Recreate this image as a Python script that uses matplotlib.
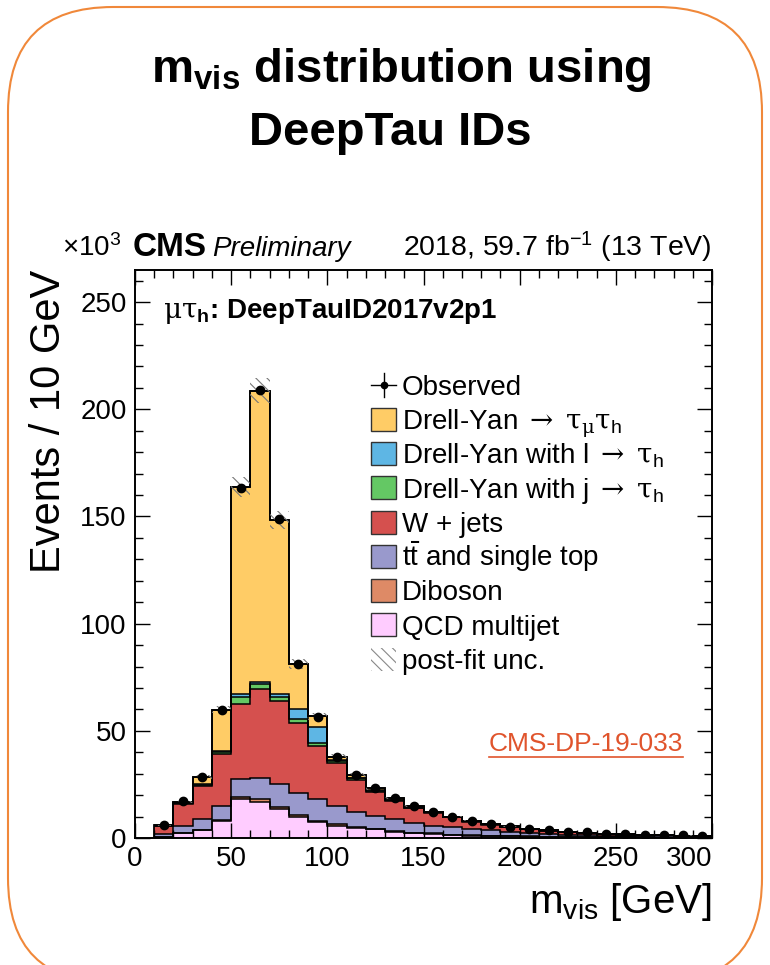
import numpy as np
import matplotlib.pyplot as plt
from matplotlib.patches import Rectangle, FancyBboxPatch
from matplotlib.lines import Line2D
from matplotlib.ticker import MultipleLocator

plt.rcParams['font.family'] = ['Liberation Sans', 'DejaVu Sans']
plt.rcParams['mathtext.fontset'] = 'custom'
plt.rcParams['mathtext.rm'] = 'DejaVu Serif'
plt.rcParams['mathtext.sf'] = 'Liberation Sans'
plt.rcParams['mathtext.it'] = 'Liberation Sans:italic'
plt.rcParams['mathtext.bf'] = 'Liberation Sans:bold'
plt.rcParams['hatch.linewidth'] = 0.8

# m_vis bins (GeV), events in units of 10^3
edges = np.arange(10, 301, 10)

observed = [6.0, 17.3, 28.5, 59.8, 163.5, 208.8, 148.6, 81.2, 56.6, 38.0,
            29.2, 23.2, 18.7, 14.8, 12.0, 9.8, 7.9, 6.4, 5.3, 4.2,
            3.6, 3.0, 2.6, 2.0, 1.8, 1.6, 1.4, 1.2, 1.1]

qcd = [0.5, 2.3, 3.6, 7.8, 18.1, 17.0, 13.7, 10.0, 7.5, 5.8,
       4.8, 4.0, 3.0, 2.2, 1.9, 1.4, 1.1, 0.9, 0.7, 0.6,
       0.5, 0.4, 0.35, 0.3, 0.25, 0.2, 0.2, 0.15, 0.15]
diboson = [0.1, 0.2, 0.3, 0.6, 0.9, 1.1, 0.9, 0.7, 0.6, 0.6,
           0.5, 0.4, 0.3, 0.3, 0.2, 0.2, 0.2, 0.1, 0.1, 0.1,
           0.1, 0.1, 0.05, 0.05, 0.05, 0.05, 0.02, 0.05, 0.03]
ttbar = [1.1, 3.3, 4.8, 6.6, 8.4, 9.8, 10.5, 10.5, 10.0, 8.7,
         7.0, 5.9, 5.4, 4.4, 3.5, 3.4, 2.8, 2.5, 2.2, 1.8,
         1.3, 1.0, 0.8, 0.65, 0.6, 0.55, 0.48, 0.4, 0.32]
wjets = [3.9, 10.1, 15.6, 24.3, 35.1, 41.6, 38.6, 32.5, 24.9, 19.8,
         14.8, 11.3, 8.6, 7.0, 6.2, 4.7, 3.5, 2.7, 2.2, 1.6,
         1.5, 1.2, 1.0, 0.8, 0.7, 0.6, 0.5, 0.45, 0.45]
dy_jtau = [0.1, 0.4, 0.6, 1.0, 3.2, 2.5, 2.3, 1.8, 1.2, 1.1,
           0.8, 0.5, 0.4, 0.3, 0.1, 0.1, 0.1, 0.1, 0.05, 0.05,
           0.05, 0.05, 0.05, 0.05, 0.0, 0.0, 0.0, 0.0, 0.0]
dy_ltau = [0.0, 0.1, 0.2, 0.3, 1.3, 1.0, 1.3, 4.8, 7.8, 0.4,
           0.2, 0.2, 0.2, 0.1, 0.1, 0.1, 0.1, 0.0, 0.05, 0.05,
           0.05, 0.05, 0.05, 0.05, 0.05, 0.05, 0.05, 0.05, 0.05]
dy_tautau = [0.3, 0.5, 3.3, 19.3, 96.6, 135.7, 81.2, 20.9, 4.7, 1.6,
             1.2, 0.9, 0.6, 0.7, 0.3, 0.1, 0.2, 0.2, 0.1, 0.1,
             0.1, 0.1, 0.1, 0.1, 0.05, 0.05, 0.05, 0.05, 0.05]

unc = [0.2, 0.5, 0.8, 1.7, 4.7, 5.8, 4.2, 2.3, 1.6, 1.1,
       0.8, 0.7, 0.5, 0.4, 0.35, 0.3, 0.25, 0.2, 0.15, 0.12,
       0.1, 0.08, 0.07, 0.06, 0.05, 0.05, 0.04, 0.04, 0.03]

stack = [
    (qcd, '#FFCCFF', 'QCD multijet'),
    (diboson, '#DE8A66', 'Diboson'),
    (ttbar, '#9999CC', r't$\bar{\mathsf{t}}$ and single top'),
    (wjets, '#D5504E', 'W + jets'),
    (dy_jtau, '#64C864', r'Drell-Yan with j $\rightarrow\ \mathrm{\tau}_{\mathsf{h}}$'),
    (dy_ltau, '#5EB6E4', r'Drell-Yan with l $\rightarrow\ \mathrm{\tau}_{\mathsf{h}}$'),
    (dy_tautau, '#FFCC66', r'Drell-Yan $\rightarrow\ \mathrm{\tau}_{\mathrm{\mu}}\mathrm{\tau}_{\mathsf{h}}$'),
]

W, H = 770, 965
fig = plt.figure(figsize=(W / 100, H / 100), dpi=100)
ax = fig.add_axes([135 / W, 1 - 838 / H, 577 / W, 568 / H])

# stacked backgrounds
cum = np.zeros(len(edges) - 1)
tops = []
for vals, color, _ in stack:
    top = cum + np.array(vals)
    ax.stairs(top, edges, baseline=cum, fill=True, color=color, lw=0, zorder=1)
    tops.append(top)
    cum = top
for top in tops:
    ax.stairs(top, edges, baseline=None, color='black', lw=1.1, zorder=2)
total = cum
ax.stairs(total, edges, baseline=0, color='black', lw=1.3, zorder=2)

# post-fit uncertainty band
centers = 0.5 * (edges[:-1] + edges[1:])
unc = np.array(unc)
ax.bar(centers, 2 * unc, bottom=total - unc, width=10, fill=False,
       hatch='\\\\\\', edgecolor='#777777', lw=0, zorder=3)

ax.plot(centers, observed, 'o', color='black', ms=6, zorder=4)

ax.set_xlim(0, 300)
ax.set_ylim(0, 265)
ax.set_xticks([0, 50, 100, 150, 200, 250, 300])
ax.xaxis.set_minor_locator(MultipleLocator(10))
ax.yaxis.set_major_locator(MultipleLocator(50))
ax.yaxis.set_minor_locator(MultipleLocator(10))
ax.tick_params(which='both', direction='in', top=True, right=True,
               width=1.0, labelsize=20, pad=6)
ax.tick_params(which='major', length=11)
ax.tick_params(which='minor', length=5.5)
for s in ax.spines.values():
    s.set_linewidth(1.4)

ax.set_ylabel('Events / 10 GeV', fontsize=30, loc='top')
ax.yaxis.set_label_coords(-0.115, 1.0)
ax.set_xlabel(r'm$_{\mathsf{vis}}$ [GeV]', fontsize=29, loc='right')
ax.xaxis.set_label_coords(1.0, -0.075)

# keep the last x label inside the frame
ax.get_xticklabels()[-1].set_horizontalalignment('right')

# legend, drawn row by row
def ax_x(px):
    return (px - 135) / 577

def ax_y(py):
    return (838 - py) / 568

rows = [385 + 34.25 * i for i in range(9)]
bx0, bw, bh = 371, 25, 23
tx = 402
# observed
yc = rows[0]
ax.add_line(Line2D([ax_x(bx0), ax_x(bx0 + bw)], [ax_y(yc), ax_y(yc)],
                   transform=ax.transAxes, color='black', lw=1))
ax.add_line(Line2D([ax_x(bx0 + bw / 2)] * 2, [ax_y(yc - 12), ax_y(yc + 12)],
                   transform=ax.transAxes, color='black', lw=1))
ax.plot([ax_x(bx0 + bw / 2)], [ax_y(yc)], 'o', color='black', ms=4.5,
        transform=ax.transAxes)
ax.text(ax_x(tx), ax_y(yc + 10), 'Observed', transform=ax.transAxes,
        fontsize=20, va='baseline')
for i, (vals, color, label) in enumerate(stack[::-1]):
    yc = rows[i + 1]
    ax.add_patch(Rectangle((ax_x(bx0), ax_y(yc + bh / 2)), bw / 577, bh / 568,
                           transform=ax.transAxes, facecolor=color,
                           edgecolor='#333333', lw=1, zorder=5))
    ax.text(ax_x(tx), ax_y(yc + 10), label, transform=ax.transAxes,
            fontsize=20, va='baseline')
yc = rows[8]
ax.add_patch(Rectangle((ax_x(bx0), ax_y(yc + bh / 2)), bw / 577, bh / 568,
                       transform=ax.transAxes, fill=False, hatch='\\\\\\',
                       edgecolor='#888888', lw=0, zorder=5))
ax.text(ax_x(tx), ax_y(yc + 10), 'post-fit unc.', transform=ax.transAxes,
        fontsize=20, va='baseline')

# channel label
ax.text(ax_x(163), ax_y(318), r'$\mathrm{\mu\tau}_{\mathbf{h}}$: DeepTauID2017v2p1',
        transform=ax.transAxes, fontsize=20, fontweight='bold', va='baseline')

# CMS header
fig.text(62 / W, 1 - 256 / H, r'×10$^{\mathsf{3}}$', fontsize=20, va='baseline')
fig.text(133 / W, 1 - 256 / H, 'CMS', fontsize=24, fontweight='bold', va='baseline')
fig.text(212 / W, 1 - 256 / H, 'Preliminary', fontsize=20, style='italic',
         va='baseline')
fig.text(712 / W, 1 - 256 / H, r'2018, 59.7 fb$^{\mathsf{-1}}$ (13 TeV)',
         fontsize=20.5, ha='right', va='baseline')

# reference tag
ref = fig.text(683 / W, 1 - 751 / H, 'CMS-DP-19-033', fontsize=19,
               color='#E0542C', ha='right', va='baseline')
fig.canvas.draw()
bb = ref.get_window_extent()
fig.add_artist(Line2D([bb.x0 / W, bb.x1 / W], [(bb.y0 - 1) / H] * 2,
                      transform=fig.transFigure, color='#E0542C', lw=1.2))

# slide title
fig.text(401 / W, 1 - 82 / H, r'm$_{\mathbf{vis}}$ distribution using',
         fontsize=34, fontweight='bold', ha='center', va='baseline')
fig.text(390 / W, 1 - 145 / H, 'DeepTau IDs', fontsize=34, fontweight='bold',
         ha='center', va='baseline')

# rounded frame around the slide
frame = FancyBboxPatch((8, H - 983), 754, 976,
                       boxstyle='round,pad=0,rounding_size=105',
                       transform=None, fill=False, edgecolor='#F0883A', lw=1.5)
fig.add_artist(frame)

fig.savefig('out.png', dpi=100)
